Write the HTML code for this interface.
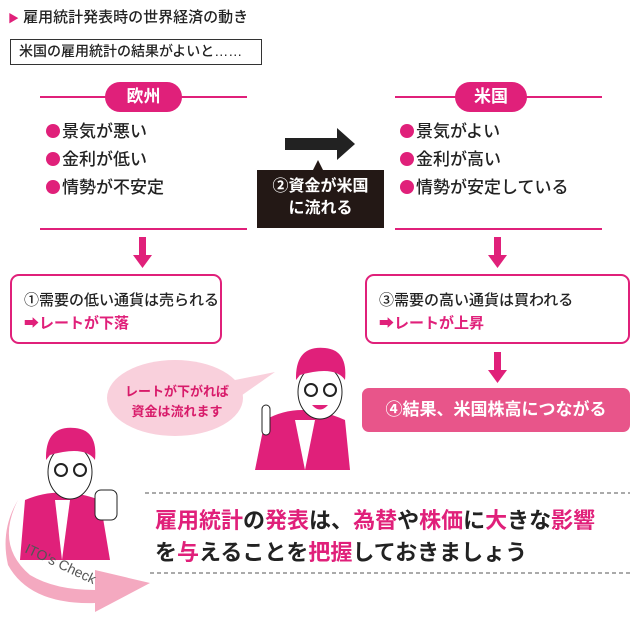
<!DOCTYPE html>
<html><head><meta charset="utf-8"><style>
body{margin:0;width:640px;height:620px;background:#fff;position:relative;overflow:hidden;font-family:"Liberation Sans","Noto Sans CJK JP",sans-serif;color:#222}
.a{position:absolute;white-space:nowrap}
.pk{color:#e0207a}
.line{position:absolute;height:2px;background:#e0207a}
.pill{position:absolute;background:#e0207a;color:#fff;font-weight:bold;font-size:17px;text-align:center;border-radius:16px;line-height:30px}
.bul{position:absolute;font-size:17px;line-height:28px;font-weight:500}
.bul i{display:inline-block;width:14px;height:14px;border-radius:50%;background:#e0207a;margin-right:2px;vertical-align:-1px}
.box{position:absolute;border:2px solid #e0207a;border-radius:9px;background:#fff;font-size:15px;padding:13px 0 0 12px;box-sizing:border-box;line-height:23px;white-space:nowrap;font-weight:500}
</style></head><body>
<div class="a" style="left:8px;top:6px;font-size:15px;font-weight:500"><span class="pk" style="font-size:11px">▶</span> 雇用統計発表時の世界経済の動き</div>
<div class="a" style="left:10px;top:39px;width:252px;height:26px;border:1.5px solid #333;box-sizing:border-box;font-size:14px;line-height:23px;padding-left:8px;font-weight:500">米国の雇用統計の結果がよいと……</div>

<div class="line" style="left:40px;top:96px;width:207px"></div>
<div class="pill" style="left:105px;top:82px;width:77px">欧州</div>
<div class="bul" style="left:46px;top:118px"><i></i>景気が悪い<br><i></i>金利が低い<br><i></i>情勢が不安定</div>
<div class="line" style="left:40px;top:228px;width:207px"></div>

<div class="line" style="left:395px;top:96px;width:207px"></div>
<div class="pill" style="left:455px;top:82px;width:72px">米国</div>
<div class="bul" style="left:400px;top:118px"><i></i>景気がよい<br><i></i>金利が高い<br><i></i>情勢が安定している</div>
<div class="line" style="left:395px;top:228px;width:207px"></div>

<svg class="a" style="left:0;top:0" width="640" height="620">
<polygon points="285,138 337,138 337,128 355,144 337,160 337,150 285,150" fill="#222"/>
<polygon points="318,160 312,172 324,172" fill="#231815"/>
<rect x="139" y="237" width="7" height="20" fill="#e0207a"/><polygon points="133,255 152,255 142.5,268" fill="#e0207a"/>
<rect x="494" y="237" width="7" height="20" fill="#e0207a"/><polygon points="488,255 507,255 497.5,268" fill="#e0207a"/>
<rect x="494" y="352" width="7" height="20" fill="#e0207a"/><polygon points="488,370 507,370 497.5,383" fill="#e0207a"/>
<ellipse cx="175" cy="398" rx="68" ry="38" fill="#f9d0dc"/>
<polygon points="235,380 275,372 238,398" fill="#f9d0dc"/>
<path d="M18 500 Q-5 545 30 575 Q55 590 95 590 L95 570 L150 583 L95 612 L95 603 Q30 605 8 565 Q0 530 18 500 Z" fill="#f4a9c0"/>
<line x1="145" y1="493" x2="630" y2="493" stroke="#555" stroke-dasharray="4,3"/>
<line x1="150" y1="573" x2="630" y2="573" stroke="#555" stroke-dasharray="4,3"/>
<path d="M255 470 L265 420 Q300 400 345 420 L350 470 Z" fill="#e0207a"/>
<path d="M295 420 L305 470 L315 420 Z" fill="#fff"/>
<ellipse cx="320" cy="392" rx="22" ry="27" fill="#fff" stroke="#222"/>
<path d="M296 380 Q295 345 325 348 Q348 350 345 380 Q335 365 300 375 Z" fill="#e0207a"/>
<circle cx="311" cy="390" r="6" fill="none" stroke="#222" stroke-width="2"/><circle cx="330" cy="390" r="6" fill="none" stroke="#222" stroke-width="2"/>
<path d="M312 405 Q320 414 328 405 Z" fill="#e0207a"/>
<rect x="262" y="405" width="8" height="30" rx="4" fill="#fff" stroke="#222"/>
<path d="M20 560 L25 500 Q60 485 100 500 L110 560 Z" fill="#e0207a"/>
<path d="M55 500 L62 560 L70 500 Z" fill="#fff"/>
<ellipse cx="70" cy="472" rx="22" ry="27" fill="#fff" stroke="#222"/>
<path d="M46 460 Q45 425 75 428 Q98 430 95 460 Q85 445 50 455 Z" fill="#e0207a"/>
<circle cx="61" cy="470" r="6" fill="none" stroke="#222" stroke-width="2"/><circle cx="80" cy="470" r="6" fill="none" stroke="#222" stroke-width="2"/>
<rect x="95" y="490" width="22" height="30" rx="6" fill="#fff" stroke="#222"/>
<text x="24" y="552" font-size="14" fill="#555" transform="rotate(25 24 552)" font-family="Liberation Sans">ITO's Check</text>
</svg>
<div class="a" style="left:257px;top:170px;width:127px;height:58px;background:#231815;color:#fff;font-size:16px;text-align:center;line-height:22px;padding-top:6px;box-sizing:border-box;font-weight:bold">②資金が米国<br>に流れる</div>

<div class="box" style="left:10px;top:274px;width:212px;height:70px">①需要の低い通貨は売られる<br><span class="pk" style="font-weight:bold">➡レートが下落</span></div>
<div class="box" style="left:365px;top:274px;width:265px;height:70px">③需要の高い通貨は買われる<br><span class="pk" style="font-weight:bold">➡レートが上昇</span></div>
<div class="a" style="left:362px;top:388px;width:268px;height:44px;background:#e8558a;border-radius:7px;color:#fff;font-weight:bold;font-size:17px;line-height:44px;text-align:center">④結果、米国株高につながる</div>

<div class="a" style="left:125px;top:382px;font-size:13px;line-height:20px;text-align:center;color:#d81b6a;font-weight:bold">レートが下がれば<br>資金は流れます</div>
<div class="a" style="left:155px;top:505px;font-size:22px;line-height:32px;font-weight:bold"><span class="pk">雇用統計</span>の<span class="pk">発表</span>は、<span class="pk">為替</span>や<span class="pk">株価</span>に<span class="pk">大</span>きな<span class="pk">影響</span><br>を<span class="pk">与</span>えることを<span class="pk">把握</span>しておきましょう</div>
</body></html>
